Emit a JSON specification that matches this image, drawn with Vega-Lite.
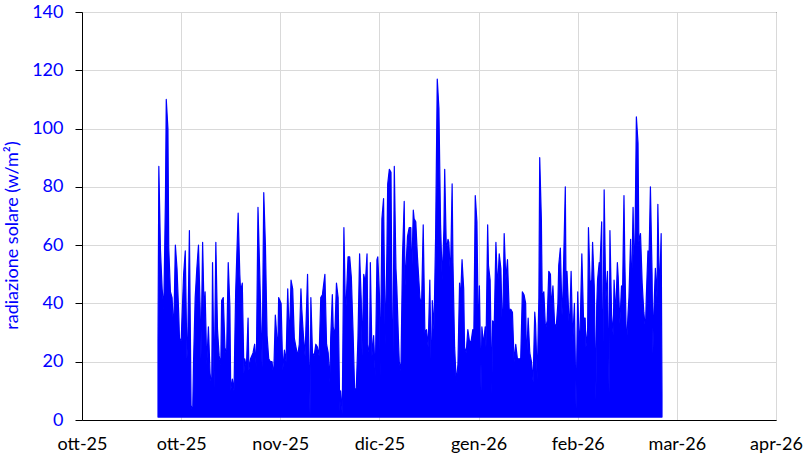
{
"$schema": "https://vega.github.io/schema/vega-lite/v6.json",
"width": 694,
"height": 408,
"autosize": {"type": "none"},
"padding": {"left": 82, "top": 12, "right": 28, "bottom": 46},
"background": "#FFFFFF",
"config": {
  "view": {"stroke": "#000000", "strokeWidth": 1},
  "font": "Lato",
  "locale": {"time": {"dateTime": "%A %e %B %Y, %X", "date": "%d/%m/%Y", "time": "%H:%M:%S", "periods": ["AM", "PM"], "days": ["domenica", "lunedì", "martedì", "mercoledì", "giovedì", "venerdì", "sabato"], "shortDays": ["dom", "lun", "mar", "mer", "gio", "ven", "sab"], "months": ["gennaio", "febbraio", "marzo", "aprile", "maggio", "giugno", "luglio", "agosto", "settembre", "ottobre", "novembre", "dicembre"], "shortMonths": ["gen", "feb", "mar", "apr", "mag", "giu", "lug", "ago", "set", "ott", "nov", "dic"]}},
  "axis": {"gridColor": "#D9D9D9", "gridWidth": 1, "domainColor": "#000000", "domainWidth": 1, "labelFont": "Lato", "labelFontSize": 18, "titleFont": "Lato"}
},
"data": {"values": [
{"t":"2025-10-24T00:00","v":27},{"t":"2025-10-24T06:00","v":87},{"t":"2025-10-24T18:00","v":58},{"t":"2025-10-25T06:00","v":45},{"t":"2025-10-25T18:00","v":38},
{"t":"2025-10-26T06:00","v":76},{"t":"2025-10-26T12:00","v":110},{"t":"2025-10-27T00:00","v":100},{"t":"2025-10-27T06:00","v":59},{"t":"2025-10-27T18:00","v":44},
{"t":"2025-10-28T06:00","v":42},{"t":"2025-10-28T18:00","v":30},{"t":"2025-10-29T06:00","v":60},{"t":"2025-10-29T18:00","v":52},{"t":"2025-10-30T06:00","v":37},
{"t":"2025-10-30T12:00","v":28},{"t":"2025-10-31T00:00","v":27},{"t":"2025-10-31T18:00","v":50},{"t":"2025-11-01T06:00","v":58},{"t":"2025-11-01T18:00","v":21},
{"t":"2025-11-02T00:00","v":27},{"t":"2025-11-02T12:00","v":65},{"t":"2025-11-03T00:00","v":5},{"t":"2025-11-03T12:00","v":3},{"t":"2025-11-03T18:00","v":20},
{"t":"2025-11-04T06:00","v":42},{"t":"2025-11-04T18:00","v":52},{"t":"2025-11-05T06:00","v":60},{"t":"2025-11-05T18:00","v":38},{"t":"2025-11-06T00:00","v":21},
{"t":"2025-11-06T12:00","v":61},{"t":"2025-11-07T00:00","v":34},{"t":"2025-11-07T06:00","v":44},{"t":"2025-11-07T18:00","v":19},{"t":"2025-11-08T06:00","v":32},
{"t":"2025-11-08T18:00","v":16},{"t":"2025-11-09T06:00","v":11},{"t":"2025-11-09T12:00","v":54},{"t":"2025-11-10T00:00","v":11},{"t":"2025-11-10T12:00","v":61},
{"t":"2025-11-11T00:00","v":31},{"t":"2025-11-11T12:00","v":22},{"t":"2025-11-12T00:00","v":19},{"t":"2025-11-12T06:00","v":41},{"t":"2025-11-12T18:00","v":42},
{"t":"2025-11-13T06:00","v":25},{"t":"2025-11-13T18:00","v":22},{"t":"2025-11-14T06:00","v":54},{"t":"2025-11-14T18:00","v":39},{"t":"2025-11-15T00:00","v":10},
{"t":"2025-11-15T12:00","v":14},{"t":"2025-11-16T00:00","v":10},{"t":"2025-11-16T06:00","v":28},{"t":"2025-11-16T12:00","v":44},{"t":"2025-11-17T06:00","v":71},
{"t":"2025-11-17T18:00","v":50},
{"t":"2025-11-18T00:00","v":44},{"t":"2025-11-18T12:00","v":47},{"t":"2025-11-19T00:00","v":16},{"t":"2025-11-19T06:00","v":21},{"t":"2025-11-19T18:00","v":18},
{"t":"2025-11-20T06:00","v":35},{"t":"2025-11-20T12:00","v":17},{"t":"2025-11-21T00:00","v":21},{"t":"2025-11-21T18:00","v":23},{"t":"2025-11-22T06:00","v":26},
{"t":"2025-11-22T18:00","v":18},{"t":"2025-11-23T06:00","v":73},{"t":"2025-11-23T18:00","v":52},{"t":"2025-11-24T06:00","v":29},{"t":"2025-11-24T12:00","v":18},
{"t":"2025-11-25T00:00","v":78},{"t":"2025-11-25T12:00","v":60},{"t":"2025-11-26T00:00","v":29},{"t":"2025-11-26T12:00","v":21},{"t":"2025-11-27T00:00","v":20},
{"t":"2025-11-27T12:00","v":20},{"t":"2025-11-28T00:00","v":15},{"t":"2025-11-28T12:00","v":36},{"t":"2025-11-28T18:00","v":32},{"t":"2025-11-29T06:00","v":23},
{"t":"2025-11-29T12:00","v":42},{"t":"2025-11-30T06:00","v":40},{"t":"2025-11-30T18:00","v":17},{"t":"2025-12-01T06:00","v":24},{"t":"2025-12-01T18:00","v":20},
{"t":"2025-12-02T06:00","v":45},{"t":"2025-12-02T18:00","v":27},{"t":"2025-12-03T06:00","v":48},{"t":"2025-12-03T18:00","v":45},{"t":"2025-12-04T06:00","v":28},
{"t":"2025-12-04T18:00","v":25},{"t":"2025-12-05T06:00","v":22},{"t":"2025-12-05T18:00","v":26},{"t":"2025-12-06T06:00","v":45},{"t":"2025-12-06T12:00","v":38},
{"t":"2025-12-07T00:00","v":29},{"t":"2025-12-07T12:00","v":22},{"t":"2025-12-08T06:00","v":50},{"t":"2025-12-09T00:00","v":2},{"t":"2025-12-09T06:00","v":42},
{"t":"2025-12-09T18:00","v":23},{"t":"2025-12-10T06:00","v":22},{"t":"2025-12-10T18:00","v":26},{"t":"2025-12-11T06:00","v":25},{"t":"2025-12-11T18:00","v":22},
{"t":"2025-12-12T06:00","v":42},{"t":"2025-12-12T18:00","v":43},{"t":"2025-12-13T12:00","v":50},
{"t":"2025-12-14T00:00","v":26},{"t":"2025-12-14T12:00","v":23},{"t":"2025-12-15T00:00","v":13},{"t":"2025-12-15T06:00","v":28},{"t":"2025-12-15T18:00","v":43},
{"t":"2025-12-16T00:00","v":32},{"t":"2025-12-16T12:00","v":29},{"t":"2025-12-17T00:00","v":47},{"t":"2025-12-17T12:00","v":42},{"t":"2025-12-18T00:00","v":3},
{"t":"2025-12-18T06:00","v":10},{"t":"2025-12-18T18:00","v":2},{"t":"2025-12-19T06:00","v":66},{"t":"2025-12-19T18:00","v":35},{"t":"2025-12-20T12:00","v":56},
{"t":"2025-12-21T00:00","v":56},{"t":"2025-12-21T12:00","v":49},{"t":"2025-12-22T00:00","v":31},{"t":"2025-12-22T12:00","v":10},{"t":"2025-12-23T00:00","v":11},
{"t":"2025-12-23T12:00","v":28},{"t":"2025-12-24T00:00","v":57},{"t":"2025-12-24T12:00","v":41},{"t":"2025-12-24T18:00","v":22},{"t":"2025-12-25T06:00","v":50},
{"t":"2025-12-25T18:00","v":47},{"t":"2025-12-26T06:00","v":57},{"t":"2025-12-26T12:00","v":26},{"t":"2025-12-27T00:00","v":22},{"t":"2025-12-27T06:00","v":54},
{"t":"2025-12-27T18:00","v":22},{"t":"2025-12-28T06:00","v":29},{"t":"2025-12-28T18:00","v":15},{"t":"2025-12-29T06:00","v":55},{"t":"2025-12-29T12:00","v":56},
{"t":"2025-12-30T00:00","v":43},{"t":"2025-12-30T06:00","v":15},{"t":"2025-12-30T18:00","v":69},{"t":"2025-12-31T06:00","v":76},{"t":"2025-12-31T18:00","v":26},
{"t":"2026-01-01T06:00","v":57},{"t":"2026-01-01T12:00","v":81},{"t":"2026-01-02T00:00","v":86},{"t":"2026-01-02T12:00","v":85},{"t":"2026-01-03T00:00","v":5},
{"t":"2026-01-03T12:00","v":87},{"t":"2026-01-04T00:00","v":52},{"t":"2026-01-04T06:00","v":46},{"t":"2026-01-04T18:00","v":28},{"t":"2026-01-05T00:00","v":20},
{"t":"2026-01-05T12:00","v":17},{"t":"2026-01-06T00:00","v":57},{"t":"2026-01-06T12:00","v":75},{"t":"2026-01-06T18:00","v":46},{"t":"2026-01-07T12:00","v":63},
{"t":"2026-01-08T00:00","v":66},
{"t":"2026-01-08T12:00","v":66},{"t":"2026-01-08T18:00","v":48},{"t":"2026-01-09T06:00","v":72},{"t":"2026-01-09T12:00","v":69},{"t":"2026-01-10T00:00","v":68},
{"t":"2026-01-10T12:00","v":56},{"t":"2026-01-11T06:00","v":42},{"t":"2026-01-11T18:00","v":39},{"t":"2026-01-12T06:00","v":67},{"t":"2026-01-12T18:00","v":30},
{"t":"2026-01-13T06:00","v":31},{"t":"2026-01-13T18:00","v":25},{"t":"2026-01-14T06:00","v":48},{"t":"2026-01-14T18:00","v":10},{"t":"2026-01-15T00:00","v":41},
{"t":"2026-01-15T12:00","v":31},{"t":"2026-01-16T00:00","v":63},{"t":"2026-01-16T12:00","v":117},{"t":"2026-01-17T00:00","v":107},{"t":"2026-01-17T12:00","v":67},
{"t":"2026-01-18T00:00","v":48},{"t":"2026-01-18T12:00","v":65},{"t":"2026-01-18T18:00","v":86},{"t":"2026-01-19T06:00","v":58},{"t":"2026-01-19T18:00","v":62},
{"t":"2026-01-20T00:00","v":61},{"t":"2026-01-20T12:00","v":49},{"t":"2026-01-21T00:00","v":81},{"t":"2026-01-21T06:00","v":54},{"t":"2026-01-21T18:00","v":25},
{"t":"2026-01-22T06:00","v":13},{"t":"2026-01-22T18:00","v":19},{"t":"2026-01-23T06:00","v":47},{"t":"2026-01-23T12:00","v":40},{"t":"2026-01-24T00:00","v":55},
{"t":"2026-01-24T12:00","v":45},{"t":"2026-01-24T18:00","v":25},{"t":"2026-01-25T06:00","v":23},{"t":"2026-01-25T18:00","v":31},{"t":"2026-01-26T06:00","v":27},
{"t":"2026-01-26T18:00","v":27},{"t":"2026-01-27T06:00","v":31},{"t":"2026-01-27T12:00","v":22},{"t":"2026-01-28T00:00","v":77},{"t":"2026-01-28T12:00","v":68},
{"t":"2026-01-29T00:00","v":23},{"t":"2026-01-29T06:00","v":46},{"t":"2026-01-29T18:00","v":10},{"t":"2026-01-30T00:00","v":32},{"t":"2026-01-30T12:00","v":26},
{"t":"2026-01-31T00:00","v":32},{"t":"2026-01-31T06:00","v":25},{"t":"2026-01-31T18:00","v":67},{"t":"2026-02-01T00:00","v":53},{"t":"2026-02-01T12:00","v":48},
{"t":"2026-02-02T00:00","v":9},{"t":"2026-02-02T06:00","v":34},{"t":"2026-02-02T18:00","v":33},
{"t":"2026-02-03T06:00","v":61},{"t":"2026-02-03T18:00","v":45},{"t":"2026-02-04T06:00","v":57},{"t":"2026-02-04T18:00","v":52},{"t":"2026-02-05T06:00","v":27},
{"t":"2026-02-05T18:00","v":64},{"t":"2026-02-06T06:00","v":48},{"t":"2026-02-06T18:00","v":55},{"t":"2026-02-07T06:00","v":38},{"t":"2026-02-07T18:00","v":38},
{"t":"2026-02-08T06:00","v":37},{"t":"2026-02-08T18:00","v":20},{"t":"2026-02-09T06:00","v":26},{"t":"2026-02-09T18:00","v":21},{"t":"2026-02-10T06:00","v":21},
{"t":"2026-02-10T18:00","v":21},{"t":"2026-02-11T06:00","v":44},{"t":"2026-02-11T18:00","v":43},{"t":"2026-02-12T06:00","v":40},{"t":"2026-02-12T12:00","v":19},
{"t":"2026-02-13T00:00","v":35},{"t":"2026-02-13T12:00","v":23},{"t":"2026-02-14T00:00","v":20},{"t":"2026-02-14T12:00","v":13},{"t":"2026-02-15T00:00","v":37},
{"t":"2026-02-15T06:00","v":33},{"t":"2026-02-15T18:00","v":14},{"t":"2026-02-16T06:00","v":42},{"t":"2026-02-16T12:00","v":90},{"t":"2026-02-17T00:00","v":69},
{"t":"2026-02-17T06:00","v":42},{"t":"2026-02-17T18:00","v":44},{"t":"2026-02-18T06:00","v":31},{"t":"2026-02-18T18:00","v":34},{"t":"2026-02-19T06:00","v":51},
{"t":"2026-02-19T18:00","v":50},{"t":"2026-02-20T00:00","v":38},{"t":"2026-02-20T12:00","v":46},{"t":"2026-02-21T00:00","v":33},{"t":"2026-02-21T12:00","v":32},
{"t":"2026-02-22T00:00","v":40},{"t":"2026-02-22T06:00","v":53},{"t":"2026-02-22T18:00","v":59},{"t":"2026-02-23T06:00","v":36},{"t":"2026-02-23T12:00","v":42},
{"t":"2026-02-24T06:00","v":80},{"t":"2026-02-24T12:00","v":39},{"t":"2026-02-24T18:00","v":51},{"t":"2026-02-25T12:00","v":30},{"t":"2026-02-26T00:00","v":51},
{"t":"2026-02-26T12:00","v":27},{"t":"2026-02-27T00:00","v":40},{"t":"2026-02-27T12:00","v":4},{"t":"2026-02-28T00:00","v":44},{"t":"2026-02-28T12:00","v":24},
{"t":"2026-02-28T18:00","v":32},{"t":"2026-03-01T06:00","v":57},{"t":"2026-03-01T18:00","v":35},{"t":"2026-03-02T06:00","v":35},{"t":"2026-03-02T12:00","v":25},
{"t":"2026-03-03T00:00","v":31},{"t":"2026-03-03T06:00","v":66},{"t":"2026-03-03T18:00","v":47},{"t":"2026-03-04T06:00","v":48},{"t":"2026-03-04T12:00","v":61},
{"t":"2026-03-05T00:00","v":46},{"t":"2026-03-05T12:00","v":7},{"t":"2026-03-05T18:00","v":39},{"t":"2026-03-06T00:00","v":48},{"t":"2026-03-06T12:00","v":54},
{"t":"2026-03-06T18:00","v":53},{"t":"2026-03-07T06:00","v":68},{"t":"2026-03-07T12:00","v":2},{"t":"2026-03-08T00:00","v":79},{"t":"2026-03-08T12:00","v":41},
{"t":"2026-03-09T00:00","v":51},{"t":"2026-03-09T12:00","v":9},{"t":"2026-03-09T18:00","v":65},{"t":"2026-03-10T06:00","v":36},{"t":"2026-03-10T18:00","v":29},
{"t":"2026-03-11T00:00","v":48},{"t":"2026-03-11T12:00","v":36},{"t":"2026-03-12T00:00","v":54},{"t":"2026-03-12T06:00","v":49},{"t":"2026-03-12T18:00","v":33},
{"t":"2026-03-13T06:00","v":46},{"t":"2026-03-13T12:00","v":38},{"t":"2026-03-14T00:00","v":77},{"t":"2026-03-14T06:00","v":55},{"t":"2026-03-14T18:00","v":25},
{"t":"2026-03-15T06:00","v":37},{"t":"2026-03-15T12:00","v":42},{"t":"2026-03-16T00:00","v":62},{"t":"2026-03-16T06:00","v":40},{"t":"2026-03-16T18:00","v":73},
{"t":"2026-03-17T00:00","v":57},{"t":"2026-03-17T06:00","v":53},{"t":"2026-03-17T18:00","v":104},{"t":"2026-03-18T06:00","v":95},{"t":"2026-03-18T12:00","v":61},
{"t":"2026-03-19T00:00","v":64},{"t":"2026-03-19T12:00","v":47},{"t":"2026-03-20T00:00","v":37},{"t":"2026-03-20T12:00","v":31},{"t":"2026-03-20T18:00","v":42},
{"t":"2026-03-21T06:00","v":58},{"t":"2026-03-21T12:00","v":51},{"t":"2026-03-22T00:00","v":80},{"t":"2026-03-22T12:00","v":50},{"t":"2026-03-22T18:00","v":23},
{"t":"2026-03-23T00:00","v":36},{"t":"2026-03-23T12:00","v":52},{"t":"2026-03-24T00:00","v":42},{"t":"2026-03-24T06:00","v":74},{"t":"2026-03-24T18:00","v":42},
{"t":"2026-03-25T06:00","v":64},{"t":"2026-03-25T12:00","v":9}
]},
"mark": {"type": "area", "color": "#0000FF", "stroke": "#0000FF", "strokeWidth": 1.2, "strokeJoin": "round", "opacity": 1, "fillOpacity": 1, "interpolate": "linear"},
"encoding": {
  "x": {
    "field": "t", "type": "temporal",
    "scale": {"domain": [{"year": 2025, "month": 10, "date": 1}, {"year": 2026, "month": 4, "date": 29}], "nice": false},
    "axis": {
      "values": [{"year": 2025, "month": 10, "date": 1}, {"year": 2025, "month": 10, "date": 31}, {"year": 2025, "month": 11, "date": 30}, {"year": 2025, "month": 12, "date": 30}, {"year": 2026, "month": 1, "date": 29}, {"year": 2026, "month": 2, "date": 28}, {"year": 2026, "month": 3, "date": 30}, {"year": 2026, "month": 4, "date": 29}],
      "format": "%b-%y", "title": null, "grid": true, "ticks": false, "tickSize": 0,
      "labelColor": "#000000", "labelFontSize": 18, "labelPadding": 15, "labelFlush": false, "labelOverlap": false
    }
  },
  "y": {
    "field": "v", "type": "quantitative",
    "scale": {"domain": [0, 140], "nice": false},
    "axis": {
      "values": [0, 20, 40, 60, 80, 100, 120, 140],
      "title": "radiazione solare (w/m²)", "titleColor": "#0000FF", "titleFontSize": 18, "titleFontWeight": "normal",
      "titleAngle": -90, "titleAlign": "center", "titleBaseline": "middle", "titleX": -70, "titleY": 223,
      "labelColor": "#0000FF", "labelFontSize": 18, "labelPadding": 12,
      "ticks": true, "tickSize": 7, "tickColor": "#000000", "grid": true
    }
  },
  "y2": {"datum": 1}
}
}
